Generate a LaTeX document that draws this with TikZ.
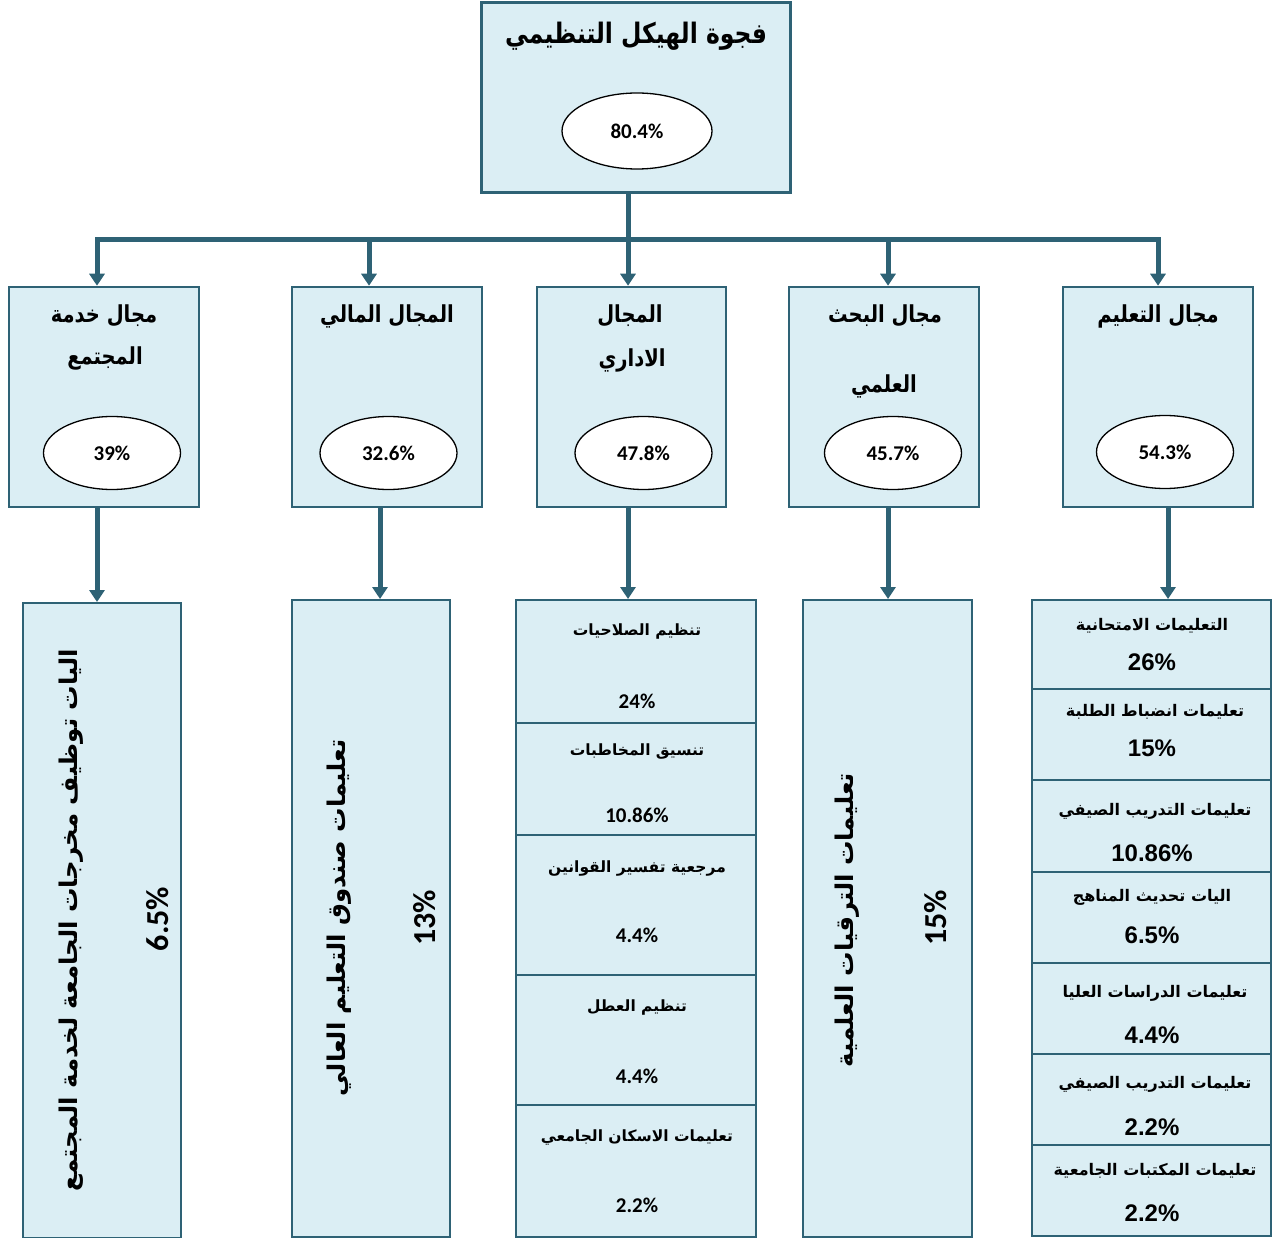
\documentclass[tikz,border=0pt]{standalone}
\usepackage{fontspec}
\usetikzlibrary{arrows.meta,shapes.geometric,calc}
\TeXXeTstate=1
\newfontfamily\arabicfont[Script=Arabic]{DejaVu Sans}
\newfontfamily\calib{Carlito}
\newfontfamily\arialf{Liberation Sans}
\newcommand{\ar}[1]{{\arabicfont\bfseries\beginR #1\endR}}
\newcommand{\art}[1]{\scalebox{1}[1.2]{\ar{#1}}}
\definecolor{bord}{RGB}{46,98,117}
\definecolor{bg}{RGB}{219,238,244}
\begin{document}
\begin{tikzpicture}[x=1pt,y=-1pt,
 box/.style={draw=bord,fill=bg,line width=2.5pt,rectangle,inner sep=0pt},
 lowbox/.style={box,line width=2pt},
 ell/.style={draw=black,fill=white,ellipse,line width=1.3pt,minimum width=137pt,minimum height=73pt,inner sep=0pt,font=\calib\bfseries\fontsize{21}{24}\selectfont},
 conn/.style={draw=bord,line width=5pt},
 arr/.style={conn,-{Triangle[width=15pt,length=12pt]}},
 txt/.style={inner sep=0pt,text=black},
 head/.style={txt,font=\fontsize{19.5}{22}\selectfont},
 item/.style={txt,font=\fontsize{15.5}{18}\selectfont},
 itemb/.style={txt,font=\fontsize{16}{19}\selectfont},
 pctc/.style={txt,font=\calib\bfseries\fontsize{21}{24}\selectfont},
 pcta/.style={txt,font=\arialf\bfseries\fontsize{24}{27}\selectfont},
 rot/.style={txt,rotate=90,font=\fontsize{24.4}{28}\selectfont},
 rotp/.style={txt,rotate=90,font=\calib\bfseries\fontsize{32}{35}\selectfont}
]
\useasboundingbox (0,0) rectangle (1272,1238);

% top
\node[box,line width=3pt,minimum width=309pt,minimum height=190pt] (top) at (635.5,98) {};
\node[txt,font=\fontsize{23.5}{28}\selectfont] (toptitle) at (636,36) {\art{فجوة الهيكل التنظيمي}};
\node[ell,minimum width=150pt,minimum height=76pt] (tope) at (637,131) {80.4\%};

% domain boxes
\node[box,minimum width=190pt,minimum height=220pt] (d1) at (104,397) {};
\node[box,minimum width=190pt,minimum height=220pt] (d2) at (387,397) {};
\node[box,minimum width=189pt,minimum height=220pt] (d3) at (631.5,397) {};
\node[box,minimum width=190pt,minimum height=220pt] (d4) at (884,397) {};
\node[box,minimum width=190pt,minimum height=220pt] (d5) at (1158,397) {};

\node[head] (h1a) at (104,316) {\art{مجال خدمة}};
\node[head] (h1b) at (105,358) {\art{المجتمع}};
\node[head] (h2) at (387,316) {\art{المجال المالي}};
\node[head] (h3a) at (630,316) {\art{المجال}};
\node[head] (h3b) at (632,360) {\art{الاداري}};
\node[head] (h4a) at (885,316) {\art{مجال البحث}};
\node[head] (h4b) at (884,386) {\art{العلمي}};
\node[head] (h5) at (1158,316) {\art{مجال التعليم}};

\node[ell] (e1) at (112,453) {39\%};
\node[ell] (e2) at (388.5,453) {32.6\%};
\node[ell] (e3) at (643.5,453) {47.8\%};
\node[ell] (e4) at (893,453) {45.7\%};
\node[ell] (e5) at (1165,452) {54.3\%};

% connectors top -> domains
\coordinate (bus) at (628,240);
\draw[conn] (top.south -| bus) -- (bus);
\draw[arr] (bus) -| ([xshift=-7pt]d1.north);
\draw[arr] (bus) -| ([xshift=-18pt]d2.north);
\draw[arr] (bus) -- ([xshift=-3.5pt]d3.north);
\draw[arr] (bus) -| ([xshift=4pt]d4.north);
\draw[arr] (bus) -| (d5.north);

% bottom boxes
\node[lowbox,minimum width=158pt,minimum height=635pt] (b1) at (102,920.5) {};
\node[lowbox,minimum width=158pt,minimum height=637pt] (b2) at (371,918.5) {};
\node[lowbox,minimum width=169pt,minimum height=637pt] (b4) at (887.5,918.5) {};

\node[lowbox,minimum width=240pt,minimum height=123pt] (b3r1) at (636,661.5) {};
\node[lowbox,minimum width=240pt,minimum height=112pt] (b3r2) at (636,779) {};
\node[lowbox,minimum width=240pt,minimum height=140pt] (b3r3) at (636,905) {};
\node[lowbox,minimum width=240pt,minimum height=130pt] (b3r4) at (636,1040) {};
\node[lowbox,minimum width=240pt,minimum height=132pt] (b3r5) at (636,1171) {};

\node[lowbox,minimum width=239pt,minimum height=89pt] (b5r1) at (1151.5,644.5) {};
\node[lowbox,minimum width=239pt,minimum height=91pt] (b5r2) at (1151.5,734.5) {};
\node[lowbox,minimum width=239pt,minimum height=92pt] (b5r3) at (1151.5,826) {};
\node[lowbox,minimum width=239pt,minimum height=91pt] (b5r4) at (1151.5,917.5) {};
\node[lowbox,minimum width=239pt,minimum height=91pt] (b5r5) at (1151.5,1008.5) {};
\node[lowbox,minimum width=239pt,minimum height=91pt] (b5r6) at (1151.5,1099.5) {};
\node[lowbox,minimum width=239pt,minimum height=91pt] (b5r7) at (1151.5,1190.5) {};

% connectors domains -> bottom
\draw[arr] ([xshift=-7pt]d1.south) -- ([xshift=-7pt]d1.south |- b1.north);
\draw[arr] ([xshift=-7pt]d2.south) -- ([xshift=-7pt]d2.south |- b2.north);
\draw[arr] ([xshift=-3.5pt]d3.south) -- ([xshift=-3.5pt]d3.south |- b3r1.north);
\draw[arr] ([xshift=4pt]d4.south) -- ([xshift=4pt]d4.south |- b4.north);
\draw[arr] ([xshift=10pt]d5.south) -- ([xshift=10pt]d5.south |- b5r1.north);

% rotated texts
\node[rot] (t1) at (71,920) {\ar{اليات توظيف مخرجات الجامعة لخدمة المجتمع}};
\node[rotp] (p1) at (158,919) {6.5\%};
\node[rot] (t2) at (339,918) {\ar{تعليمات صندوق التعليم العالي}};
\node[rotp] (p2) at (425,918) {13\%};
\node[rot] (t4) at (847,920) {\ar{تعليمات الترقيات العلمية}};
\node[rotp] (p4) at (936,918) {15\%};

% column 3 texts
\node[item] (c31) at (637,632) {\ar{تنظيم الصلاحيات}};
\node[pctc] (c31p) at (637,701) {24\%};
\node[item] (c32) at (637,752) {\ar{تنسيق المخاطبات}};
\node[pctc] (c32p) at (637,815) {10.86\%};
\node[item] (c33) at (637,868) {\ar{مرجعية تفسير القوانين}};
\node[pctc] (c33p) at (637,935) {4.4\%};
\node[item] (c34) at (637,1007) {\ar{تنظيم العطل}};
\node[pctc] (c34p) at (637,1076) {4.4\%};
\node[item] (c35) at (637,1137) {\ar{تعليمات الاسكان الجامعي}};
\node[pctc] (c35p) at (637,1205) {2.2\%};

% column 5 texts
\node[itemb] (c51) at (1152,626) {\ar{التعليمات الامتحانية}};
\node[pcta] (c51p) at (1152,662) {26\%};
\node[itemb] (c52) at (1155,712) {\ar{تعليمات انضباط الطلبة}};
\node[pcta] (c52p) at (1152,748) {15\%};
\node[itemb] (c53) at (1155,811) {\ar{تعليمات التدريب الصيفي}};
\node[pcta] (c53p) at (1152,853) {10.86\%};
\node[itemb] (c54) at (1152,897) {\ar{اليات تحديث المناهج}};
\node[pcta] (c54p) at (1152,935) {6.5\%};
\node[itemb] (c55) at (1155,993) {\ar{تعليمات الدراسات العليا}};
\node[pcta] (c55p) at (1152,1035) {4.4\%};
\node[itemb] (c56) at (1155,1084) {\ar{تعليمات التدريب الصيفي}};
\node[pcta] (c56p) at (1152,1127) {2.2\%};
\node[itemb] (c57) at (1155,1171) {\ar{تعليمات المكتبات الجامعية}};
\node[pcta] (c57p) at (1152,1213) {2.2\%};
\end{tikzpicture}
\end{document}
